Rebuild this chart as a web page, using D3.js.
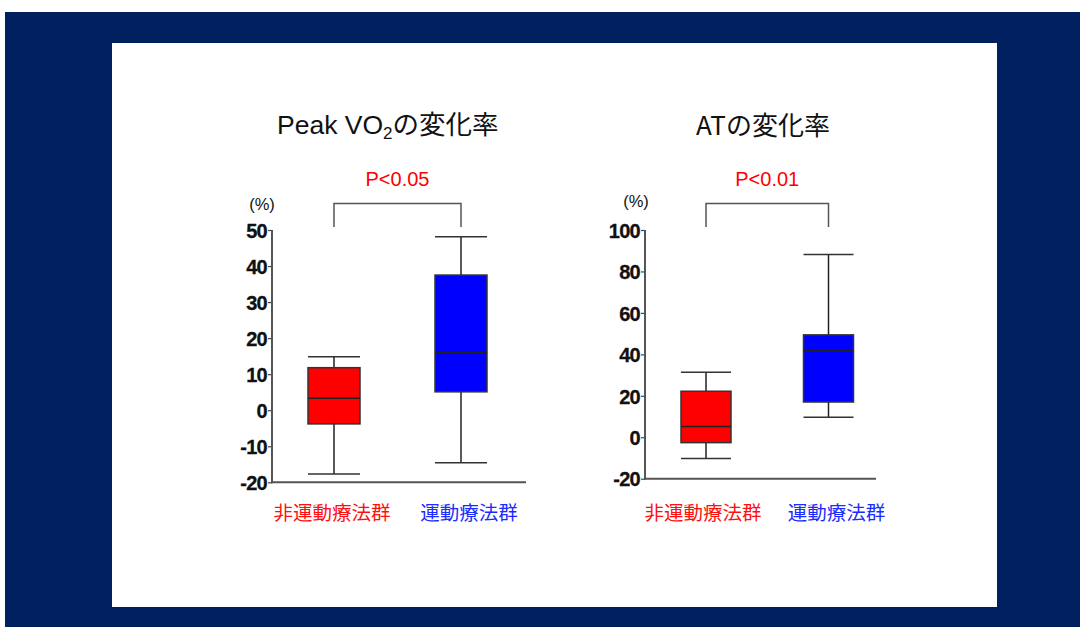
<!DOCTYPE html>
<html>
<head>
<meta charset="utf-8">
<script src="https://cdn.jsdelivr.net/npm/d3@7"></script>
<style>
  html, body { margin: 0; padding: 0; background: #ffffff; }
  svg { display: block; }
</style>
</head>
<body>
<svg id="chart" width="1080" height="627"></svg>
<script>
// Groups
const categories = ["非運動療法群", "運動療法群"];
const categoryColors = ["#ff0000", "#0000ff"];
const labelColors = ["#ff1010", "#1a2cff"];

// Box statistics: [min, Q1, median, Q3, max] in % change
const peakNonExercise = [-17.7, -3.8, 3.3, 11.8, 14.8];
const peakExercise = [-14.6, 5.1, 16.0, 37.5, 48.1];
const atNonExercise = [-10.2, -2.6, 5.2, 22.2, 31.4];
const atExercise = [9.7, 17.0, 41.7, 49.4, 88.2];

// Axis ticks
const peakTicks = [-20, -10, 0, 10, 20, 30, 40, 50];
const atTicks = [-20, 0, 20, 40, 60, 80, 100];

// Significance labels
const peakP = "P<0.05";
const atP = "P<0.01";

const svg = d3.select("#chart");

// Frame
svg.append("rect").attr("x", 5).attr("y", 12).attr("width", 1075).attr("height", 615)
  .attr("fill", "#002060");
svg.append("rect").attr("x", 112).attr("y", 43).attr("width", 885).attr("height", 564)
  .attr("fill", "#ffffff");

function drawPanel(cfg) {
  const g = svg.append("g");
  const y = d3.scaleLinear().domain(cfg.domain).range([cfg.yBottom, cfg.yTop]);
  const x = d3.scalePoint().domain(categories).range(cfg.centers);

  // Title
  cfg.drawTitle(g);

  // Y axis
  const yAxis = d3.axisLeft(y).tickValues(cfg.ticks).tickSize(4).tickPadding(1)
    .tickFormat(d => String(d));
  const ga = g.append("g").attr("transform", `translate(${cfg.axisX},0)`).call(yAxis);
  ga.select(".domain").remove();
  ga.selectAll(".tick line").attr("stroke", "#444").attr("stroke-width", 1.2);
  ga.selectAll(".tick text")
    .attr("font-family", "'Liberation Sans', Arial, sans-serif")
    .attr("font-weight", "bold")
    .attr("font-size", 20)
    .attr("letter-spacing", -0.7)
    .attr("fill", "#111")
    .attr("stroke", "#111").attr("stroke-width", 0.3)
    .attr("dy", "0.36em");
  g.append("line").attr("x1", cfg.axisX).attr("x2", cfg.axisX)
    .attr("y1", y(cfg.domain[1])).attr("y2", y(cfg.domain[0]) + 1)
    .attr("stroke", "#555").attr("stroke-width", 2);
  g.append("line").attr("x1", cfg.axisX - 1).attr("x2", cfg.axisEnd)
    .attr("y1", y(cfg.domain[0])).attr("y2", y(cfg.domain[0]))
    .attr("stroke", "#555").attr("stroke-width", 2);

  // Unit
  g.append("text").attr("x", cfg.unitX).attr("y", cfg.unitY)
    .attr("font-family", "'Liberation Sans', Arial, sans-serif")
    .attr("font-size", 16.5).attr("fill", "#111")
    .attr("text-anchor", "middle").text("(%)");

  // Boxes
  cfg.stats.forEach((s, i) => {
    const cx = x(categories[i]);
    const hw = cfg.boxWidth / 2;
    const bg = g.append("g");
    bg.append("line").attr("x1", cx).attr("x2", cx).attr("y1", y(s[4])).attr("y2", y(s[0]))
      .attr("stroke", "#222").attr("stroke-width", 1.5);
    bg.append("line").attr("x1", cx - hw).attr("x2", cx + hw).attr("y1", y(s[4])).attr("y2", y(s[4]))
      .attr("stroke", "#333").attr("stroke-width", 1.5);
    bg.append("line").attr("x1", cx - hw).attr("x2", cx + hw).attr("y1", y(s[0])).attr("y2", y(s[0]))
      .attr("stroke", "#333").attr("stroke-width", 1.5);
    bg.append("rect").attr("x", cx - hw).attr("y", y(s[3]))
      .attr("width", cfg.boxWidth).attr("height", y(s[1]) - y(s[3]))
      .attr("fill", categoryColors[i]).attr("stroke", "#333").attr("stroke-width", 1.5);
    bg.append("line").attr("x1", cx - hw).attr("x2", cx + hw).attr("y1", y(s[2])).attr("y2", y(s[2]))
      .attr("stroke", "#222").attr("stroke-width", 1.5);

    // Category label
    g.append("text").attr("x", cx + cfg.labelOffsets[i]).attr("y", 520)
      .attr("font-family", "'Noto Sans CJK JP', sans-serif")
      .attr("font-size", 19.5).attr("fill", labelColors[i])
      .attr("text-anchor", "middle").text(categories[i]);
  });

  // Significance bracket
  const x0 = x(categories[0]), x1 = x(categories[1]);
  g.append("path")
    .attr("d", `M${x0},227 V203.5 H${x1} V227`)
    .attr("fill", "none").attr("stroke", "#555").attr("stroke-width", 1.5);
  g.append("text").attr("x", (x0 + x1) / 2).attr("y", 186)
    .attr("font-family", "'Liberation Sans', Arial, sans-serif")
    .attr("font-size", 20).attr("fill", "#ff0000")
    .attr("text-anchor", "middle").text(cfg.p);
}

drawPanel({
  domain: [-20, 50], ticks: peakTicks, yTop: 230, yBottom: 482.3,
  axisX: 272, axisEnd: 526, centers: [334, 461], boxWidth: 52,
  labelOffsets: [-2, 8], unitX: 262, unitY: 210,
  stats: [peakNonExercise, peakExercise], p: peakP,
  drawTitle: (g) => {
    const t = g.append("text").attr("x", 277).attr("y", 134)
      .attr("font-family", "'Liberation Sans', Arial, 'Noto Sans CJK JP', sans-serif")
      .attr("font-size", 26.5).attr("fill", "#111");
    t.append("tspan").text("Peak VO");
    t.append("tspan").attr("font-size", 17).attr("dy", 5).text("2");
    t.append("tspan").attr("dy", -5)
      .attr("font-family", "'Noto Sans CJK JP', sans-serif").text("の変化率");
  }
});

drawPanel({
  domain: [-20, 100], ticks: atTicks, yTop: 230, yBottom: 478.7,
  axisX: 645, axisEnd: 876, centers: [706, 828.5], boxWidth: 50,
  labelOffsets: [-3, 8], unitX: 636, unitY: 207,
  stats: [atNonExercise, atExercise], p: atP,
  drawTitle: (g) => {
    g.append("text").attr("x", 763).attr("y", 135)
      .attr("font-family", "'Noto Sans CJK JP', sans-serif")
      .attr("font-size", 26).attr("fill", "#111")
      .attr("text-anchor", "middle").text("ATの変化率");
  }
});
</script>
</body>
</html>
